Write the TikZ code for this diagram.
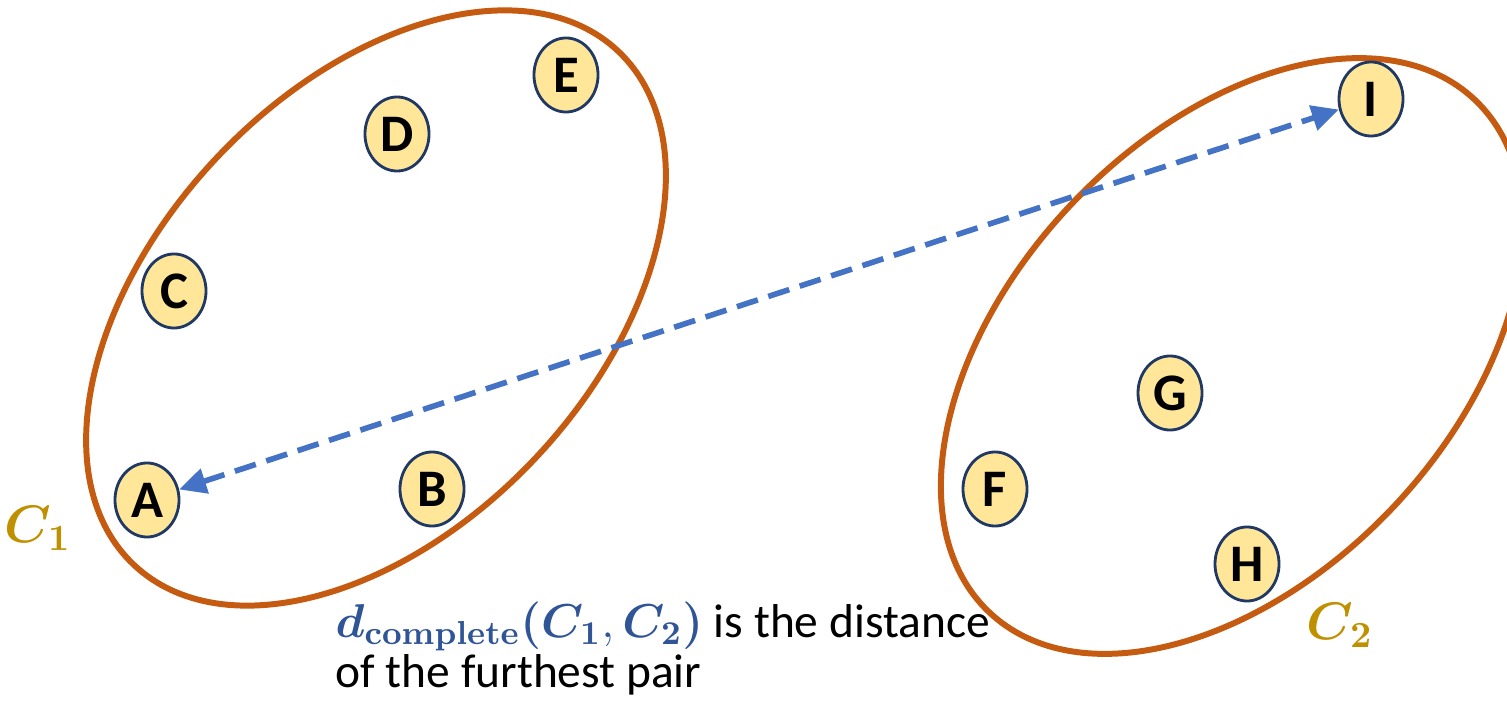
\RequirePackage{fix-cm}
\documentclass[tikz,border=0pt]{standalone}
\usepackage{amsmath, amssymb, bm}
\usepackage[no-math]{fontspec}
\setmainfont{Carlito}
\usepackage{xcolor}
\usetikzlibrary{arrows.meta, positioning, shapes.geometric}
\definecolor{clusterline}{HTML}{C55A11}
\definecolor{labelgold}{HTML}{BF9000}
\definecolor{linkblue}{HTML}{4472C4}
\definecolor{mathblue}{HTML}{2F5597}
\definecolor{pointfill}{HTML}{FFE699}
\definecolor{pointline}{HTML}{1F3864}

\begin{document}
\begin{tikzpicture}[
    x=0.01cm, y=0.01cm,
    >={Triangle[length=0.27cm, width=0.25cm]},
    point/.style={ellipse, draw=pointline, line width=0.8pt, fill=pointfill, minimum width=0.64cm, minimum height=0.74cm, inner sep=0pt, font=\fontsize{15}{18}\selectfont\bfseries},
    cluster/.style={draw=clusterline, line width=1.7pt},
    clusterlabel/.style={text=labelgold, inner sep=0pt, font=\fontsize{15}{18}\selectfont},
    caption/.style={anchor=base west, inner sep=0pt, font=\fontsize{13.5}{16}\selectfont},
]
    \useasboundingbox (0,0) rectangle (1507,709);

    % Cluster outlines
    \draw[cluster, rotate around={46.7:(376,401)}] (376,401) ellipse [x radius=353, y radius=219];
    \draw[cluster, rotate around={46.5:(1232,353)}] (1232,353) ellipse [x radius=353, y radius=221];

    % Points of C1
    \node[point] (A) at (147, 209) {A};
    \node[point] (B) at (432, 220) {B};
    \node[point] (C) at (174, 418) {C};
    \node[point] (D) at (397, 575) {D};
    \node[point] (E) at (566, 634) {E};

    % Points of C2
    \node[point] (F) at (995, 220) {F};
    \node[point] (G) at (1170, 316) {G};
    \node[point] (H) at (1247, 145) {H};
    \node[point] (I) at (1371, 610) {I};

    % Cluster names
    \node[clusterlabel] (c1lab) at (38, 181) {$\bm{C}_{\mathbf{1}}$};
    \node[clusterlabel] (c2lab) at (1340, 84) {$\bm{C}_{\mathbf{2}}$};

    % Furthest pair
    \draw[<->, linkblue, line width=1.6pt, dash pattern=on 0.22cm off 0.11cm] (A) -- (I);

    % Caption
    \node[caption] (dline1) at (335, 72) {\textcolor{mathblue}{$\bm{d}_{\mathbf{complete}}\bm{(}\bm{C}_{\mathbf{1}},\bm{C}_{\mathbf{2}}\bm{)}$} is the distance};
    \node[caption] (dline2) at (335, 22) {of the furthest pair};
\end{tikzpicture}
\end{document}
